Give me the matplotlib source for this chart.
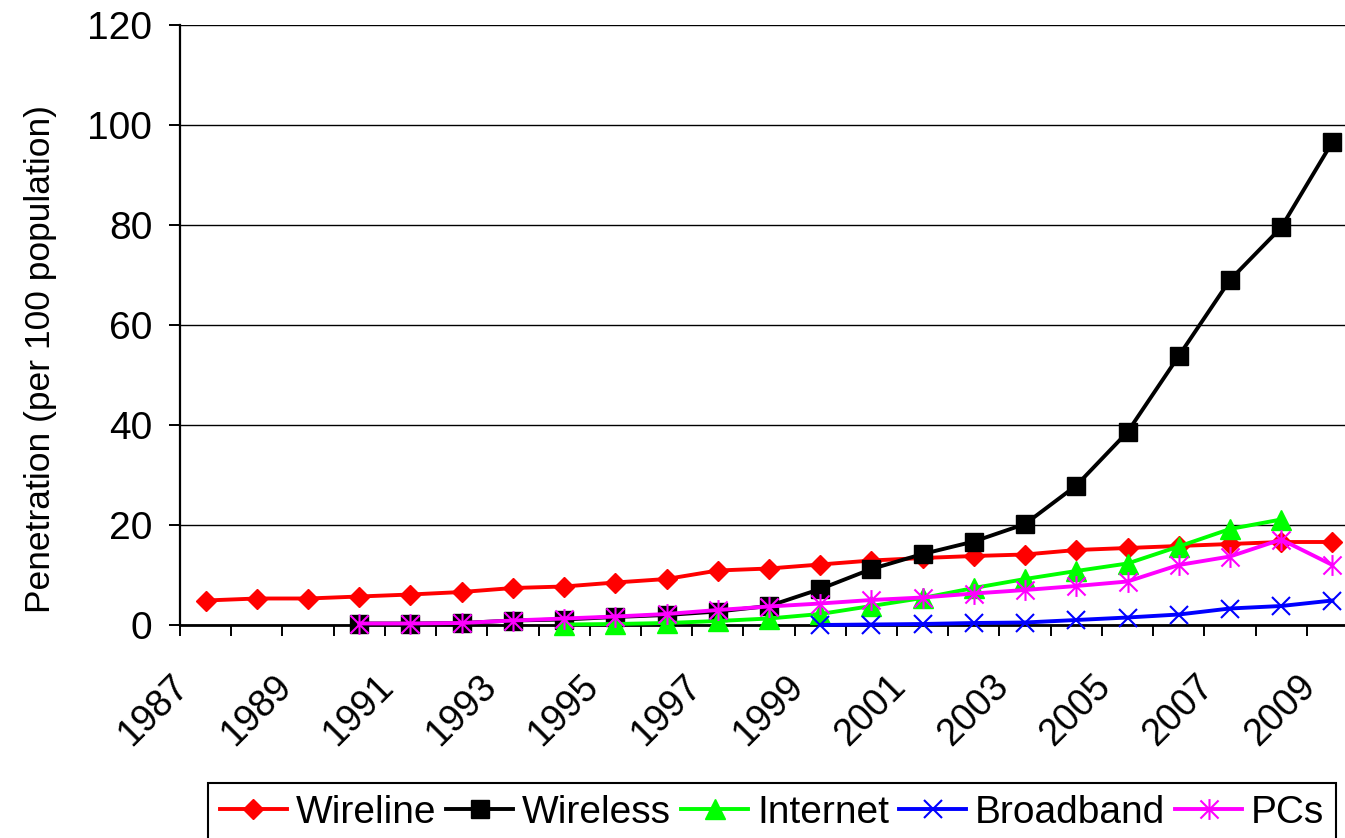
import numpy as np
import matplotlib
matplotlib.use("Agg")
import matplotlib.pyplot as plt
from matplotlib.path import Path
from matplotlib.transforms import ScaledTranslation

nan = np.nan
years = np.arange(1987, 2010)
label_years = years[::2]

wireline = [4.9, 5.3, 5.3, 5.7, 6.1, 6.6, 7.4, 7.7, 8.5, 9.2, 10.9, 11.3,
            12.1, 12.9, 13.4, 13.8, 14.1, 15.0, 15.4, 15.8, 16.2, 16.6, 16.6]
wireless = [nan, nan, nan, 0.3, 0.3, 0.4, 0.9, 1.1, 1.6, 2.0, 2.7, 3.8,
            7.2, 11.2, 14.2, 16.7, 20.2, 27.9, 38.6, 53.8, 69.0, 79.5, 96.6]
internet = [nan, nan, nan, nan, nan, nan, nan, 0.1, 0.2, 0.4, 0.8, 1.3,
            2.2, 3.8, 5.4, 7.4, 9.2, 10.8, 12.3, 15.7, 19.2, 21.1, nan]
broadband = [nan, nan, nan, nan, nan, nan, nan, nan, nan, nan, nan, nan,
             0.0, 0.1, 0.2, 0.4, 0.5, 1.0, 1.5, 2.1, 3.3, 3.8, 4.9]
pcs = [nan, nan, nan, 0.3, 0.3, 0.4, 0.9, 1.3, 1.7, 2.2, 3.0, 3.7,
       4.3, 5.0, 5.5, 6.3, 7.0, 7.8, 8.7, 12.0, 13.7, 17.1, 12.0]

series_names = ["Wireline", "Wireless", "Internet", "Broadband", "PCs"]

plt.rcParams['font.family'] = ['Liberation Sans', 'DejaVu Sans']

asterisk = Path([(-1, -1), (1, 1), (-1, 1), (1, -1), (0, -1.15), (0, 1.15)],
                [Path.MOVETO, Path.LINETO, Path.MOVETO, Path.LINETO,
                 Path.MOVETO, Path.LINETO])

styles = [
    dict(color='#FF0000', marker='D', ms=10.5, mfc='#FF0000', mec='#FF0000', mew=1),
    dict(color='#000000', marker='s', ms=13, mfc='#000000', mec='#000000', mew=1),
    dict(color='#00FF00', marker='^', ms=14.5, mfc='#00FF00', mec='#00FF00', mew=1),
    dict(color='#0000FF', marker='x', ms=13.5, mec='#0000FF', mew=1.5),
    dict(color='#FF00FF', marker=asterisk, ms=15, mfc='none', mec='#FF00FF', mew=1.5),
]

W, H = 1345, 838
fig = plt.figure(figsize=(W / 100, H / 100), dpi=100)
ax = fig.add_axes([180 / W, 213 / H, 1178 / W, 600 / H])

data = [wireline, wireless, internet, broadband, pcs]
handles = []
for name, vals, st in zip(series_names, data, styles):
    ln, = ax.plot(years, vals, lw=2.8, label=name, clip_on=False, zorder=3, **st)
    handles.append(ln)

ax.set_yticks(np.arange(0, 121, 20))
ax.yaxis.grid(True, color='black', lw=1.0)
ax.set_axisbelow(True)

for s in ['top', 'right']:
    ax.spines[s].set_visible(False)
ax.spines['left'].set_linewidth(1.6)
ax.spines['bottom'].set_linewidth(2.0)

ax.tick_params(axis='y', direction='out', length=8, width=1.4, pad=12,
               labelsize=28, colors='black')

# category boundaries as minor ticks, year labels every other category
ax.set_xticks(np.arange(1986.5, 2010.0, 1.0), minor=True)
ax.set_xticks(label_years)
ax.set_xticklabels([str(y) for y in label_years])
ax.tick_params(axis='x', which='minor', direction='out', length=8, width=1.4)
ax.tick_params(axis='x', which='major', length=0, pad=31, labelsize=27)
shift = ScaledTranslation(-35 / 100, 0, fig.dpi_scale_trans)
for lbl in ax.get_xticklabels():
    lbl.set_rotation(45)
    lbl.set_rotation_mode('anchor')
    lbl.set_ha('right')
    lbl.set_va('top')
    lbl.set_transform(lbl.get_transform() + shift)

ax.set_xlim(1986.5, 2009.5)
ax.set_ylim(0, 120)

ax.set_ylabel("Penetration (per 100 population)", fontsize=25.5)
ax.yaxis.set_label_coords(-0.104, 0.444)

leg = fig.legend(handles=handles, labels=series_names, loc='upper left',
                 bbox_to_anchor=(208 / W, 1 - 783 / H), ncol=5, frameon=True,
                 fancybox=False, edgecolor='black', framealpha=1, fontsize=28,
                 handlelength=1.73, handletextpad=0.22, columnspacing=0.26,
                 borderpad=0.3, borderaxespad=0)
leg.get_frame().set_linewidth(1.5)

fig.savefig("out.png", dpi=100)
